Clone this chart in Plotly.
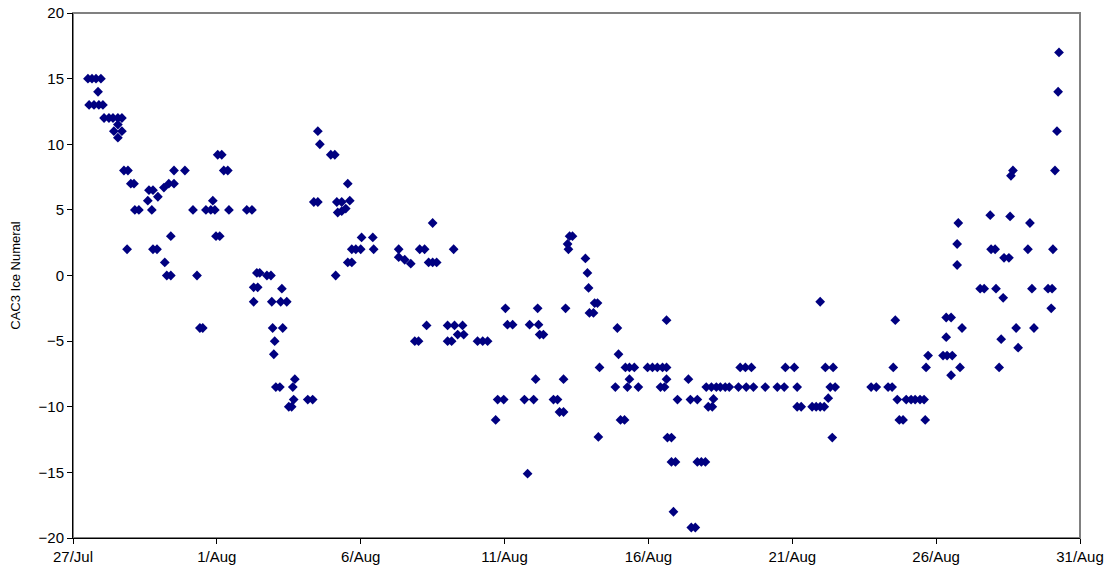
import pandas as pd
import plotly.graph_objects as go

# Sampling time, in days after 27 Jul 00:00
day_offset = [
    0.52, 0.66, 0.80, 0.97, 0.87, 0.56, 0.73, 0.90, 1.04,
    1.08, 1.25, 1.39, 1.56, 1.70, 1.56, 1.42, 1.70, 1.56,
    1.77, 1.91, 2.01, 2.12, 2.15, 2.29, 1.88,
    2.64, 2.78, 2.60, 2.95, 2.74, 2.78, 2.92,
    3.16, 3.33, 3.51, 3.51, 3.19, 3.26, 3.40, 3.40, 3.89,
    4.17, 4.31, 4.41, 4.51, 4.62, 4.79, 4.93, 4.86, 4.97, 5.10,
    5.03, 5.17, 5.24, 5.38, 5.42, 6.04, 6.22,
    6.39, 6.49, 6.74, 6.88, 6.28, 6.42, 7.26, 6.28, 6.91, 7.22, 7.43,
    6.94, 7.29, 7.01, 6.98, 7.71, 7.05, 7.19, 7.64, 7.67, 7.50, 7.60,
    8.16, 8.33,
    8.51, 8.58, 8.96, 9.10, 8.37, 8.51, 9.17, 9.34, 9.55, 9.62,
    9.20, 9.34, 9.48, 9.13, 9.55, 9.69, 9.69, 9.83, 10.00, 10.03,
    10.42, 10.45,
    11.32, 11.32, 11.53, 11.74, 12.05, 12.22, 12.36, 12.50, 12.64,
    12.50, 13.23, 12.29, 11.88, 12.01, 13.02, 13.26, 13.54, 13.02,
    13.16, 13.37, 13.58, 14.06, 14.24, 14.41,
    14.69, 14.76, 14.97, 15.03, 15.10, 15.28, 15.69, 16.01, 15.80,
    15.87, 16.15, 16.18, 16.22, 16.35, 16.08, 16.70, 16.84, 16.91,
    17.05, 17.05, 17.12, 17.19, 17.22, 17.26, 17.36, 17.81, 17.88,
    17.92, 18.13, 18.23, 17.95, 18.09, 18.26, 18.30,
    18.85, 18.92, 18.96, 19.03, 19.17, 19.20, 19.27, 19.34, 19.34,
    19.51, 19.65, 19.97, 20.14, 20.31, 20.49, 20.63, 20.42, 20.56,
    20.63, 20.63, 20.66, 20.80, 20.80, 20.94, 20.87, 21.01, 21.39,
    21.46, 21.70, 21.49, 21.63, 21.70, 21.84, 21.98,
    22.01, 22.19, 22.36, 22.50, 22.67, 22.81, 22.26, 22.08, 22.22,
    23.13, 23.40, 23.65, 24.06, 24.48, 24.72, 25.17, 26.32, 26.49,
    23.19, 23.37, 23.58, 24.76, 25.07, 26.15, 26.42,
    25.17, 25.31, 25.69, 25.83, 25.97, 26.11, 25.97, 26.25, 26.39,
    27.74, 27.92, 28.33, 28.47, 28.51, 28.58, 28.65, 28.96, 29.13,
    29.27, 29.44, 29.58, 28.72, 28.85, 29.62, 29.65, 29.72,
    30.24, 30.38, 30.56, 30.35, 30.52, 30.35, 30.52, 30.83, 30.90,
    30.77, 30.73, 30.73, 31.53, 31.67, 31.88, 31.91, 32.05, 32.08,
    32.19, 32.26, 32.33, 32.36, 32.53, 32.57, 32.60, 32.67, 32.78,
    32.85, 33.19, 33.26, 33.33, 33.40, 33.89, 34.03, 34.00, 34.06,
    34.13, 34.20, 34.24, 34.27,
]

ice_numeral = [
    15, 15, 15, 15, 14, 13, 13, 13, 13,
    12, 12, 12, 12, 12, 11.5, 11, 11, 10.5,
    8, 8, 7, 7, 5, 5, 2,
    6.5, 6.5, 5.7, 6, 5, 2, 2,
    6.7, 7, 7, 8, 1, 0, 0, 3, 8,
    5, 0, -4, -4, 5, 5, 5, 5.7, 3, 3,
    9.2, 9.2, 8, 8, 5, 5, 5,
    0.2, 0.2, 0, 0, -0.9, -0.9, -1, -2, -2, -2, -2,
    -4, -4, -5, -6, -7.9, -8.5, -8.5, -8.5, -9.45, -10, -10,
    -9.45, -9.45,
    11, 10, 9.2, 9.2, 5.6, 5.6, 5.6, 5.6, 7, 5.7,
    4.8, 4.9, 5.1, 0, 1, 1, 2, 2, 2, 2.9,
    2.9, 2,
    2, 1.4, 1.2, 0.9, 2, 2, 1, 1, 1,
    4, 2, -3.8, -5, -5, -3.8, -3.8, -3.8, -5,
    -5, -4.5, -4.5, -5, -5, -5,
    -11, -9.45, -9.45, -2.5, -3.75, -3.75, -9.45, -9.45, -15.1,
    -3.75, -2.5, -3.75, -4.5, -4.5, -7.9, -9.45, -9.45, -10.4,
    -10.4, -7.9, -2.5, 2.4, 2, 3, 3, 1.3, 0.2,
    -0.95, -2.1, -2.1, -2.85, -2.85, -12.3, -7,
    -8.5, -4, -6, -11, -11, -7, -8.5, -7.9, -7,
    -7, -8.5, -7, -7, -7, -7, -7, -8.5, -8.5,
    -3.4, -7.9, -12.35, -12.35, -14.2, -14.2, -18, -9.45, -7.9,
    -9.45, -9.45, -19.2, -19.2, -14.2, -14.2, -14.2,
    -8.5, -8.5, -8.5, -8.5, -8.5, -8.5, -9.4, -10, -10,
    -8.5, -8.5, -8.5, -8.5, -8.5, -8.5, -8.5, -8.5, -8.5,
    -7, -7, -7, -7, -7, -7, -7,
    -10, -10, -10, -10, -10, -10, -2, -9.35, -12.35,
    -8.5, -8.5, -8.5, -8.5, -7, -3.4, -9.45, -9.45, -9.45,
    -9.45, -9.45, -9.45, -11, -11, -11, -7, -6.1,
    -6.1, -6.1, -6.1, -3.2, -3.2, -4.7, -7.6, -7, -4,
    4, 2.4, 0.8, -1, -1, 4.6, 2, 2, -1,
    -7, -4.85, -1.7, 1.35, 1.35, 4.5, 7.6, 8, -4,
    -5.5, 2, 4, -1, -4, -1, -1, -2.5, 2,
    8, 11, 14, 17,
]

start = pd.Timestamp("2006-07-27")
end = pd.Timestamp("2006-08-31")
sample_time = start + pd.to_timedelta(day_offset, unit="D")

fig = go.Figure(
    go.Scatter(
        x=sample_time,
        y=ice_numeral,
        mode="markers",
        marker=dict(symbol="diamond", size=7.5, color="#000080", line=dict(width=0)),
        hoverinfo="x+y",
    )
)

tick_font = dict(family="Liberation Sans, Arial, sans-serif", size=15, color="#000000")
title_font = dict(family="Liberation Sans, Arial, sans-serif", size=13, color="#000000")

fig.update_layout(
    width=1114,
    height=577,
    margin=dict(l=73, r=34, t=13, b=39),
    paper_bgcolor="#ffffff",
    plot_bgcolor="#ffffff",
    showlegend=False,
    font=title_font,
    xaxis=dict(
        type="date",
        range=[start, end],
        tick0=start,
        dtick=5 * 86400000,
        tickformat="%-d/%b",
        ticks="outside",
        ticklen=5,
        tickcolor="#000000",
        showgrid=False,
        zeroline=False,
        showline=True,
        linecolor="#000000",
        linewidth=1,
        tickfont=tick_font,
        automargin=False,
    ),
    yaxis=dict(
        range=[-20, 20],
        tick0=-20,
        dtick=5,
        ticks="outside",
        ticklen=5,
        tickcolor="#000000",
        showgrid=False,
        zeroline=False,
        showline=True,
        linecolor="#000000",
        linewidth=1,
        tickfont=tick_font,
        automargin=False,
        title=dict(text="CAC3 Ice Numeral", font=title_font, standoff=14),
    ),
    shapes=[
        dict(
            type="rect", xref="paper", yref="paper", x0=0, y0=0, x1=1, y1=1,
            line=dict(color="#808080", width=2), layer="below",
        )
    ],
)

fig.write_html("out.html")
